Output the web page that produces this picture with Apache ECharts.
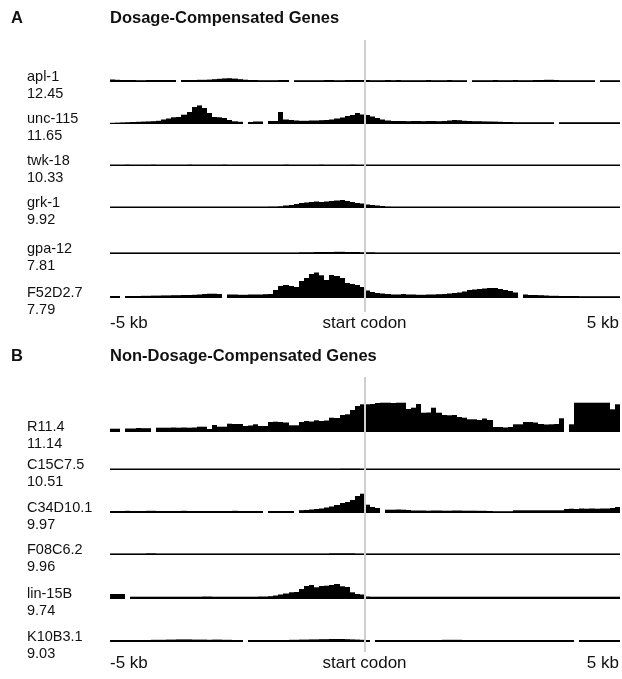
<!DOCTYPE html>
<html>
<head>
<meta charset="utf-8">
<script src="https://cdn.jsdelivr.net/npm/echarts@6/dist/echarts.min.js"></script>
<style>
html, body { margin: 0; padding: 0; background: #fff; }
#chart { width: 622px; height: 679px; }
</style>
</head>
<body>
<div id="chart"></div>
<script>
// read coverage, 100 bins of 100 bp from -5 kb to +5 kb (null = no data)
var tickLabels = ['-5 kb', 'start codon', '5 kb'];

var genesA = ['apl-1', 'unc-115', 'twk-18', 'grk-1', 'gpa-12', 'F52D2.7'];
var scoresA = ['12.45', '11.65', '10.33', '9.92', '7.81', '7.79'];
var genesB = ['R11.4', 'C15C7.5', 'C34D10.1', 'F08C6.2', 'lin-15B', 'K10B3.1'];
var scoresB = ['11.14', '10.51', '9.97', '9.96', '9.74', '9.03'];

var apl1 = [2.5,2.2,2,2,2,1.8,1.8,2,2,2,
    2,2,2,null,2,2,2,2.2,2.2,2.4,
    2.8,3.2,3.6,3.8,3.4,2.8,2.3,2,2,1.8,
    1.8,1.8,1.8,2,2,null,1.8,1.8,1.8,1.8,
    1.8,1.8,2,2,1.8,1.8,2,2,2,2,
    2,1.8,1.8,1.8,2,1.8,2,1.8,1.8,1.8,
    1.8,1.8,2,1.8,1.8,1.8,2,1.8,1.8,1.8,
    null,1.8,1.8,1.8,1.8,2,1.8,1.8,1.8,2,
    1.8,1.8,1.8,2,2,2.2,2.2,2,1.8,1.8,
    1.8,1.8,1.8,1.8,1.8,null,1.8,1.8,1.8,1.8];
var unc115 = [1.2,1.4,1.6,1.8,2,2.2,2.4,2.6,2.8,3.2,
    4.5,5.5,6.7,7,9.3,12,17,18.6,16,11,
    7,6.7,6,4,2.7,2.2,null,2,2.5,2.5,
    null,3,3,12,4.5,4,3.5,3.2,3.2,3.5,
    3.5,3.8,4,4.5,5.5,6.5,8,9,11,9.5,
    9,7.5,6,4.5,3.5,3,3,3,2.8,3,
    3,2.8,3,3,2.8,3,3.5,4,3.8,3.2,
    3,2.8,2.8,2.6,2.5,2.4,2.2,2,2,1.8,
    1.8,1.8,1.8,1.8,1.8,1.8,1.8,null,1.8,1.8,
    1.8,1.8,1.8,1.8,1.8,1.8,1.8,1.8,1.8,1.8];
var twk18 = [1.5,1.5,1.5,1.6,1.5,1.5,1.5,1.5,1.6,1.5,
    1.5,1.5,1.5,1.5,1.5,1.6,1.5,1.5,1.5,1.5,
    1.5,1.5,1.6,1.5,1.5,1.5,1.5,1.5,1.5,1.5,
    1.5,1.5,1.5,1.5,1.6,1.5,1.5,1.5,1.5,1.5,
    1.5,1.6,1.5,1.5,1.5,1.5,1.5,1.6,1.5,1.5,
    1.5,1.5,1.5,1.5,1.5,1.5,1.5,1.5,1.5,1.5,
    1.5,1.5,1.5,1.5,1.5,1.5,1.5,1.5,1.5,1.5,
    1.5,1.5,1.5,1.5,1.5,1.5,1.5,1.5,1.5,1.5,
    1.5,1.5,1.5,1.5,1.5,1.5,1.5,1.5,1.5,1.5,
    1.5,1.5,1.5,1.5,1.5,1.5,1.5,1.5,1.5,1.5];
var grk1 = [1.5,1.5,1.5,1.5,1.5,1.5,1.5,1.5,1.5,1.5,
    1.5,1.5,1.5,1.5,1.5,1.5,1.5,1.5,1.5,1.5,
    1.5,1.5,1.5,1.5,1.5,1.5,1.5,1.5,1.5,1.5,
    1.5,1.6,1.6,1.8,2.5,3,4,5,5.5,6,
    6.5,6,6.5,7,7.5,8,7,6,5,4.5,
    3.5,3,2.5,2,1.6,1.5,1.5,1.5,1.5,1.5,
    1.5,1.5,1.5,1.5,1.5,1.5,1.5,1.5,1.5,1.5,
    1.5,1.5,1.5,1.5,1.5,1.5,1.5,1.5,1.5,1.5,
    1.5,1.5,1.5,1.5,1.5,1.5,1.5,1.5,1.5,1.5,
    1.5,1.5,1.5,1.5,1.5,1.5,1.5,1.5,1.5,1.5];
var gpa12 = [1.6,1.6,1.6,1.6,1.6,1.6,1.6,1.6,1.6,1.6,
    1.6,1.6,1.6,1.6,1.6,1.6,1.6,1.6,1.6,1.6,
    1.6,1.6,1.6,1.6,1.6,1.6,1.6,1.6,1.6,1.6,
    1.6,1.6,1.6,1.6,1.6,1.6,1.6,1.8,1.8,1.8,
    2,2,2,2,2.2,2.2,2,2,2,1.8,
    1.8,1.8,1.6,1.6,1.6,1.6,1.6,1.6,1.6,1.6,
    1.6,1.6,1.6,1.6,1.6,1.6,1.6,1.6,1.6,1.6,
    1.6,1.6,1.6,1.6,1.6,1.6,1.6,1.6,1.6,1.6,
    1.6,1.6,1.6,1.6,1.6,1.6,1.6,1.6,1.6,1.6,
    1.6,1.6,1.6,1.6,1.6,1.6,1.6,1.6,1.6,1.6];
var f52d27 = [2,2,null,2,2,2,2.2,2.2,2.4,2.4,
    2.6,2.6,2.8,2.8,3,3,3.2,3.5,4,4.3,
    4.3,4,null,3.5,3.5,3.2,3.2,3.5,3.5,3.5,
    3.8,4,8,12,13,12,11,17,20,24,
    25.5,22.7,18,23,22,20,15,14,13,11,
    7.5,6,5,4.5,4,3.5,3.5,4,3.5,3.5,
    3.2,3.2,3.5,3.5,3.8,4,4.5,5,5.5,6.5,
    8,8.5,9,9.5,10,10,9,8,7,5.5,
    null,3.5,3,3,2.8,2.5,2.2,2.2,2,2,
    2,2,1.8,1.8,1.8,1.8,1.8,1.8,1.8,1.8];

var r114 = [3.3,3.3,null,3.5,3.5,4,3.8,3.8,null,4.3,
    4.3,4.3,4.5,4.3,4.5,4.3,4.5,5.3,5.3,3,
    7,5.3,5.3,8.3,8,8,6,6.5,7.7,6,
    6,10,10.3,10,9.5,6.7,6.7,10,11,10.5,
    11.7,11,11.5,14.3,14,17,17.7,22,26,27.7,
    27.7,28,29,29.3,29.3,29,29.3,29.3,23,24.3,
    28,19.3,19.5,24.3,19.3,17,16.7,17,15,14.3,
    12.7,12.7,12,13.5,12,5,5,4.5,5,7.7,
    7.7,10,10,9.5,8,7.5,7.7,8,13.7,null,
    7.7,29.3,29.3,29.3,29.3,29.3,29.3,29.3,22.7,27.7];
var c15c75 = [1.5,1.5,1.5,1.5,1.5,1.5,1.5,1.5,1.5,1.5,
    1.5,1.5,1.5,1.5,1.5,1.5,1.5,1.5,1.5,1.5,
    1.5,1.5,1.5,1.5,1.5,1.5,1.5,1.5,1.5,1.5,
    1.5,1.5,1.5,1.5,1.5,1.5,1.5,1.5,1.5,1.5,
    1.5,1.5,1.5,1.5,1.5,1.6,1.6,1.6,1.6,1.5,
    1.5,1.5,1.5,1.5,1.5,1.5,1.5,1.5,1.5,1.5,
    1.5,1.5,1.5,1.5,1.5,1.5,1.5,1.5,1.5,1.5,
    1.5,1.5,1.5,1.5,1.5,1.5,1.5,1.5,1.5,1.5,
    1.5,1.5,1.5,1.5,1.5,1.5,1.5,1.5,1.5,1.5,
    1.5,1.5,1.5,1.5,1.5,1.5,1.5,1.5,1.5,1.5];
var c34d101 = [2,2,2,2.2,2,2,2,2.2,2.2,2,
    2,2,2,2,2.2,2,2,2,2,2,
    2,2,2,2,2.2,2,2,2,2,2,
    null,2,2,2,2,2,null,2.8,3,3.5,
    4,4.5,5.5,6.5,8,10,11,13,17,19.3,
    8.3,6,5,null,3.3,3.3,3.5,3.3,3,2.5,
    2.5,2.5,2.3,2.5,2.5,2.3,2.3,2.5,2.5,2.3,
    2.3,2.3,2.2,2.2,2,1.8,1.8,1.8,1.8,2.7,
    2.7,2.7,2.7,2.7,2.7,2.7,2.7,2.7,2.7,4,
    4.3,4,4.5,4.3,4.5,4.3,4.5,4.5,5,6];
var f08c62 = [1.6,1.6,1.6,1.6,1.6,1.6,1.6,1.8,1.8,1.6,
    1.6,1.6,1.6,1.6,1.6,1.6,1.6,1.6,1.6,1.6,
    1.6,1.6,1.6,1.6,1.6,1.6,1.6,1.6,1.6,1.6,
    1.6,1.6,1.6,1.6,1.6,1.6,1.6,1.6,1.6,1.6,
    1.6,1.6,1.6,1.8,1.8,1.8,1.8,1.8,1.6,1.6,
    1.6,1.6,1.6,1.6,1.6,1.6,1.6,1.6,1.6,1.6,
    1.6,1.6,1.6,1.6,1.6,1.6,1.6,1.6,1.6,1.6,
    1.6,1.6,1.6,1.6,1.6,1.6,1.6,1.6,1.6,1.6,
    1.6,1.6,1.6,1.6,1.6,1.6,1.6,1.6,1.6,1.6,
    1.6,1.6,1.6,1.6,1.6,1.6,1.6,1.6,1.6,1.6];
var lin15b = [5,5,5,null,2.3,2.3,2.3,2.3,2.3,2.3,
    2.3,2.3,2.3,2.3,2.3,2.3,2.3,2.3,2.5,2.5,
    2.3,2.3,2.3,2.3,2.3,2.3,2.3,2.3,2.3,2.5,
    2.5,2.8,3.5,4.5,5.5,6.7,7,10,13,14,
    11.7,13,13.3,14,15,12.7,12,6.7,5,4.5,
    2.5,2.3,2.3,2.3,2.3,2.3,2.3,2.3,2.3,2.3,
    2.3,2.3,2.3,2.3,2.3,2.3,2.3,2.3,2.3,2.3,
    2.3,2.3,2.3,2.3,2.3,2.3,2.3,2.3,2.3,2.3,
    2.3,2.3,2.3,2.3,2.3,2.3,2.3,2.3,2.3,2.3,
    2.3,2.3,2.3,2.3,2.3,2.3,2.3,2.3,2.3,2.3];
var k10b31 = [2,2,2,2,2,2,2,2,2.2,2.2,
    2.2,2.4,2.4,2.6,2.6,2.6,2.4,2.4,2.4,2.2,
    2.4,2.4,2.2,2.2,2,2,null,2,2,2,
    2,2,2,2,2,2.2,2.2,2.4,2.4,2.6,
    2.6,2.8,2.8,3,3,3,2.8,2.6,2.4,2.2,
    2,null,2,2,2,2,2,2,2,2,
    2,2,2,2,2,2.2,2.2,2.2,2.2,2,
    2,2,2,2,2,2,2,2,2,2,
    2,2,2,2,2,2,2,2,2,2,
    2,null,2,2,2,2,2,2,2,2];

var tracksA = [apl1, unc115, twk18, grk1, gpa12, f52d27];
var tracksB = [r114, c15c75, c34d101, f08c62, lin15b, k10b31];

// bin start positions in kb
var BIN_KB = 0.1;
var bins = [];
for (var i = 0; i < 100; i++) {
    bins.push(-5 + i * BIN_KB);
}

var FONT = '"Liberation Sans", Arial, Helvetica, sans-serif';
var PLOT_LEFT = 110, PLOT_RIGHT = 2, TRACK_H = 30;

var grids = [], xAxes = [], yAxes = [], series = [], titles = [];

// whole-panel grid: carries the tick labels and the start codon line
function addFrame(top, bottom) {
    var idx = grids.length;
    grids.push({left: PLOT_LEFT, right: PLOT_RIGHT, top: top, bottom: bottom});
    xAxes.push({
        type: 'value', gridIndex: idx, min: -5, max: 5, interval: 5,
        axisLine: {show: false}, axisTick: {show: false}, splitLine: {show: false},
        axisLabel: {
            margin: 3, fontSize: 17, color: '#111', fontFamily: FONT,
            alignMinLabel: 'left', alignMaxLabel: 'right',
            formatter: function(v) {
                return tickLabels[Math.round(v / 5) + 1];
            }
        }
    });
    yAxes.push({type: 'value', gridIndex: idx, show: false, min: 0, max: 1});
    series.push({
        type: 'line', xAxisIndex: idx, yAxisIndex: idx, data: [], z: 10,
        markLine: {
            silent: true, symbol: 'none', animation: false,
            label: {show: false},
            lineStyle: {color: '#cfcfcf', width: 2, type: 'solid'},
            data: [{xAxis: 0}]
        }
    });
}

// one step bin -> one rect, snapped to whole pixels so neighbours don't leave seams
function renderBin(params, api) {
    var v = api.value(1);
    if (v == null || isNaN(v)) {
        return null;
    }
    var x0 = api.value(0);
    var p0 = api.coord([x0, 0]);
    var p1 = api.coord([x0 + BIN_KB, v]);
    var left = Math.round(p0[0]), right = Math.round(p1[0]);
    return {
        type: 'rect',
        shape: {x: left, y: p1[1], width: right - left, height: p0[1] - p1[1]},
        style: {fill: '#000'}
    };
}

function addTrack(values, baseline, name, score) {
    var idx = grids.length;
    var data = [];
    for (var k = 0; k < values.length; k++) {
        data.push([bins[k], values[k] == null ? NaN : values[k]]);
    }
    grids.push({left: PLOT_LEFT, right: PLOT_RIGHT, top: baseline - TRACK_H, height: TRACK_H});
    xAxes.push({type: 'value', gridIndex: idx, min: -5, max: 5, show: false});
    yAxes.push({type: 'value', gridIndex: idx, min: 0, max: TRACK_H, show: false});
    series.push({
        type: 'custom', xAxisIndex: idx, yAxisIndex: idx, data: data,
        renderItem: renderBin, animation: false, silent: true
    });
    titles.push({
        text: name + '\n' + score, left: 27, top: baseline - 14, padding: 0,
        textStyle: {fontSize: 14.5, fontWeight: 'normal', color: '#111', fontFamily: FONT, lineHeight: 17}
    });
}

var baselinesA = [82, 124, 166, 208, 254, 298];
var baselinesB = [432, 470, 513, 555, 599, 642];

addFrame(40, 679 - 312);
addFrame(377, 679 - 652);
for (var a = 0; a < tracksA.length; a++) {
    addTrack(tracksA[a], baselinesA[a], genesA[a], scoresA[a]);
}
for (var b = 0; b < tracksB.length; b++) {
    addTrack(tracksB[b], baselinesB[b], genesB[b], scoresB[b]);
}

var headStyle = {fontSize: 16.5, fontWeight: 'bold', color: '#111', fontFamily: FONT};
titles.push({text: 'A', left: 11, top: 10, padding: 0, textStyle: headStyle});
titles.push({text: 'Dosage-Compensated Genes', left: 110, top: 10, padding: 0, textStyle: headStyle});
titles.push({text: 'B', left: 11, top: 348, padding: 0, textStyle: headStyle});
titles.push({text: 'Non-Dosage-Compensated Genes', left: 110, top: 348, padding: 0, textStyle: headStyle});

var chart = echarts.init(document.getElementById('chart'));
chart.setOption({
    animation: false,
    backgroundColor: '#fff',
    title: titles,
    grid: grids,
    xAxis: xAxes,
    yAxis: yAxes,
    series: series
});
</script>
</body>
</html>
